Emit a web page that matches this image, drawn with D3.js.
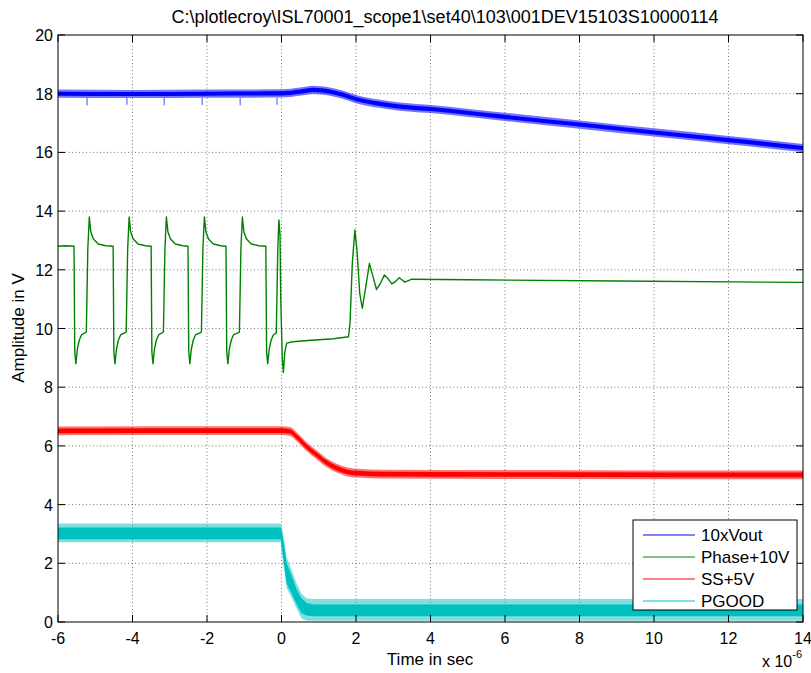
<!DOCTYPE html>
<html><head><meta charset="utf-8">
<script src="https://cdn.jsdelivr.net/npm/d3@7"></script>
<style>
html,body{margin:0;padding:0;background:#fff;}
text{font-family:"Liberation Sans",Arial,sans-serif;fill:#000;}
</style></head>
<body><svg id="c" width="811" height="673"></svg>
<script>
// ---------- data (time in microseconds, amplitude in V) ----------
const titleText = "C:\\plotlecroy\\ISL70001_scope1\\set40\\103\\001DEV15103S10000114";
const xTicks = [-6,-4,-2,0,2,4,6,8,10,12,14];
const yTicks = [0,2,4,6,8,10,12,14,16,18,20];
const seriesNames = ["10xVout","Phase+10V","SS+5V","PGOOD"];

const blueT = [-6,-4,-2,0,0.5,0.85,1.3,1.66,2.02,2.56,3.18,4.08,6,8,10,12,14];
const blueV = [18.0,17.99,18.0,18.01,18.07,18.13,18.07,17.96,17.81,17.67,17.56,17.47,17.21,16.95,16.68,16.42,16.15];
const blueCore = 0.07;   // dense noise half-width
const blueEdge = 0.14;   // sparse noise half-width
const blueSpikeT = [-5.22,-4.15,-3.15,-2.13,-1.11,-0.12];
const blueSpikeV = [17.6,17.62,17.6,17.62,17.6,17.62];

const redT = [-6,-0.02,0.23,0.41,0.68,0.95,1.21,1.48,1.75,2.02,2.74,8,14];
const redV = [6.51,6.52,6.49,6.31,5.97,5.69,5.43,5.24,5.12,5.07,5.04,5.02,5.01];
const redCore = 0.08;
const redEdge = 0.15;

const cyanT      = [-6,-0.02,0.03,0.14,0.28,0.41,0.54,0.68,0.85,14];
const cyanEdgeHi = [3.36,3.36,3.1,2.2,1.75,1.3,0.95,0.8,0.78,0.78];
const cyanCoreHi = [3.22,3.22,2.95,2.0,1.55,1.1,0.8,0.65,0.6,0.6];
const cyanCoreLo = [2.82,2.82,2.3,1.3,0.95,0.6,0.3,0.22,0.2,0.2];
const cyanEdgeLo = [2.72,2.72,2.15,1.15,0.8,0.45,0.12,0.04,0.04,0.04];

const greenPts = [
 [-6,12.8],[-5.8,12.82],
 [-5.57,12.8],[-5.55,9.2],[-5.52,8.8],[-5.48,9.3],[-5.43,9.6],[-5.37,9.78],[-5.24,9.88],[-5.20,12.7],[-5.16,13.8],[-5.12,13.3],[-5.05,13.05],[-4.92,12.88],[-4.72,12.82],
 [-4.52,12.8],[-4.50,9.2],[-4.47,8.8],[-4.43,9.3],[-4.38,9.6],[-4.32,9.78],[-4.17,9.88],[-4.13,12.7],[-4.09,13.8],[-4.05,13.3],[-3.98,13.05],[-3.85,12.88],[-3.65,12.82],
 [-3.50,12.8],[-3.48,9.2],[-3.45,8.8],[-3.41,9.3],[-3.36,9.6],[-3.30,9.78],[-3.17,9.88],[-3.13,12.7],[-3.09,13.8],[-3.05,13.3],[-2.98,13.05],[-2.85,12.88],[-2.65,12.82],
 [-2.51,12.8],[-2.49,9.2],[-2.46,8.8],[-2.42,9.3],[-2.37,9.6],[-2.31,9.78],[-2.15,9.88],[-2.11,12.7],[-2.07,13.8],[-2.03,13.3],[-1.96,13.05],[-1.83,12.88],[-1.63,12.82],
 [-1.49,12.8],[-1.47,9.2],[-1.44,8.8],[-1.40,9.3],[-1.35,9.6],[-1.29,9.78],[-1.13,9.88],[-1.09,12.7],[-1.05,13.8],[-1.01,13.3],[-0.94,13.05],[-0.81,12.88],[-0.61,12.82],
 [-0.42,12.8],[-0.40,9.2],[-0.37,8.8],[-0.33,9.3],[-0.28,9.6],[-0.22,9.78],[-0.14,9.85],[-0.10,12.7],[-0.07,13.7],[-0.04,13.2],[-0.02,11.0],[0.02,9.0],[0.05,8.5],[0.09,9.2],[0.14,9.5],
 [0.3,9.55],[0.8,9.6],[1.4,9.65],[1.8,9.72],[1.84,10.2],[1.9,12.2],[1.97,13.36],[2.03,12.6],[2.1,11.2],[2.17,10.69],[2.26,11.4],[2.36,12.22],[2.45,11.8],[2.55,11.33],[2.66,11.55],[2.76,11.82],[2.86,11.7],[2.96,11.52],[3.06,11.6],[3.16,11.73],[3.24,11.65],[3.31,11.58],[3.5,11.68],[5,11.66],[9,11.62],[14,11.57]
];

// ---------- layout ----------
const svg = d3.select("#c");
const L = 58, R = 803, T = 35, B = 622;
const x = d3.scaleLinear().domain([-6,14]).range([L,R]);
const y = d3.scaleLinear().domain([0,20]).range([B,T]);
const colors = ["#0000ff","#008000","#ff0000","#00bfbf"];

svg.append("defs").append("clipPath").attr("id","clip")
  .append("rect").attr("x",L).attr("y",T).attr("width",R-L).attr("height",B-T);

// grid
const grid = svg.append("g").attr("stroke","#555").attr("stroke-width",0.8).attr("stroke-dasharray","1,2.5");
xTicks.slice(1,-1).forEach(t=>grid.append("line").attr("x1",x(t)).attr("x2",x(t)).attr("y1",T).attr("y2",B));
yTicks.slice(1,-1).forEach(t=>grid.append("line").attr("y1",y(t)).attr("y2",y(t)).attr("x1",L).attr("x2",R));

const plot = svg.append("g").attr("clip-path","url(#clip)");

// PGOOD (cyan)
const cyanData = cyanT.map((t,i)=>({t,eh:cyanEdgeHi[i],ch:cyanCoreHi[i],cl:cyanCoreLo[i],el:cyanEdgeLo[i]}));
plot.append("path").datum(cyanData)
  .attr("d",d3.area().x(d=>x(d.t)).y0(d=>y(d.el)).y1(d=>y(d.eh)))
  .attr("fill",colors[3]).attr("opacity",0.5);
plot.append("path").datum(cyanData)
  .attr("d",d3.area().x(d=>x(d.t)).y0(d=>y(d.cl)).y1(d=>y(d.ch)))
  .attr("fill",colors[3]);

// band helper
function band(ts, vs, core, edge, col){
  const data = ts.map((t,i)=>({t,v:vs[i]}));
  plot.append("path").datum(data)
    .attr("d",d3.area().x(d=>x(d.t)).y0(d=>y(d.v-edge)).y1(d=>y(d.v+edge)).curve(d3.curveMonotoneX))
    .attr("fill",col).attr("opacity",0.55);
  plot.append("path").datum(data)
    .attr("d",d3.area().x(d=>x(d.t)).y0(d=>y(d.v-core)).y1(d=>y(d.v+core)).curve(d3.curveMonotoneX))
    .attr("fill",col);
}
band(redT, redV, redCore, redEdge, colors[2]);
band(blueT, blueV, blueCore, blueEdge, colors[0]);
blueSpikeT.forEach((t,i)=>plot.append("line")
  .attr("x1",x(t)).attr("x2",x(t)).attr("y1",y(blueV[0]-blueEdge)).attr("y2",y(blueSpikeV[i]))
  .attr("stroke",colors[0]).attr("stroke-width",1).attr("opacity",0.7));

// Phase+10V (green)
plot.append("path").datum(greenPts)
  .attr("d",d3.line().x(d=>x(d[0])).y(d=>y(d[1])))
  .attr("fill","none").attr("stroke",colors[1]).attr("stroke-width",1.4).attr("stroke-linejoin","round");

// axes box & ticks
const ax = svg.append("g").attr("stroke","#000").attr("stroke-width",1);
ax.append("rect").attr("x",L).attr("y",T).attr("width",R-L).attr("height",B-T).attr("fill","none");
const tl = 7;
xTicks.forEach(t=>{
  ax.append("line").attr("x1",x(t)).attr("x2",x(t)).attr("y1",B).attr("y2",B-tl);
  ax.append("line").attr("x1",x(t)).attr("x2",x(t)).attr("y1",T).attr("y2",T+tl);
});
yTicks.forEach(t=>{
  ax.append("line").attr("y1",y(t)).attr("y2",y(t)).attr("x1",L).attr("x2",L+tl);
  ax.append("line").attr("y1",y(t)).attr("y2",y(t)).attr("x1",R).attr("x2",R-tl);
});

// tick labels
svg.append("g").selectAll("text").data(xTicks).join("text")
  .attr("x",d=>x(d)).attr("y",644).attr("text-anchor","middle").attr("font-size",16).text(d=>d);
svg.append("g").selectAll("text").data(yTicks).join("text")
  .attr("x",53).attr("y",d=>y(d)+6).attr("text-anchor","end").attr("font-size",16).text(d=>d);

// labels
svg.append("text").attr("x",445).attr("y",23).attr("text-anchor","middle").attr("font-size",18).text(titleText);
svg.append("text").attr("x",430).attr("y",665).attr("text-anchor","middle").attr("font-size",17).text("Time in sec");
svg.append("text").attr("transform","translate(24,328) rotate(-90)").attr("text-anchor","middle").attr("font-size",17).text("Amplitude in V");
const ex = svg.append("text").attr("x",762).attr("y",667).attr("font-size",16);
ex.append("tspan").text("x 10");
ex.append("tspan").attr("dy",-9).attr("font-size",11).text("-6");

// legend
const lg = svg.append("g");
lg.append("rect").attr("x",633).attr("y",520).attr("width",164).attr("height",90).attr("fill","#fff").attr("stroke","#000");
seriesNames.forEach((n,i)=>{
  const yy = 535 + i*22;
  lg.append("line").attr("x1",643).attr("x2",695).attr("y1",yy).attr("y2",yy).attr("stroke",colors[i]).attr("stroke-width",1);
  lg.append("text").attr("x",701).attr("y",yy+6).attr("font-size",17).text(n);
});
</script></body></html>
